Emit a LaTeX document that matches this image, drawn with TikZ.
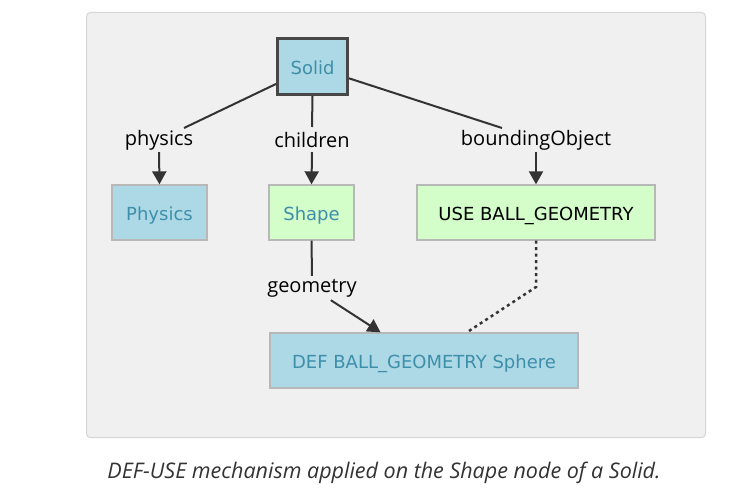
\documentclass[tikz,border=0pt]{standalone}
\usepackage{fontspec}
\setmainfont{Open Sans}
\newfontfamily\nodefont{DejaVu Sans}
\usetikzlibrary{arrows.meta}
\definecolor{panelbg}{HTML}{F0F0F0}
\definecolor{panelbd}{HTML}{D6D6D6}
\definecolor{lblue}{HTML}{ADD8E6}
\definecolor{lgreen}{HTML}{D3FDC9}
\definecolor{teal}{HTML}{3E8FAA}
\definecolor{bordgray}{HTML}{B8B8B8}
\definecolor{edgec}{HTML}{333333}
\tikzset{
  box/.style={draw=bordgray, line width=1.3pt, minimum height=55pt, inner sep=0pt, text height=16pt, text depth=0pt, font=\nodefont\fontsize{18}{20}\selectfont},
  bluebox/.style={box, fill=lblue, text=teal},
  greenbox/.style={box, fill=lgreen},
  lbl/.style={font=\fontsize{20}{23}\selectfont, text=black, inner sep=0pt, minimum height=24pt},
  edge/.style={draw=edgec, line width=2pt},
  arr/.style={edge, -{Triangle[width=14pt,length=13pt]}},
  dots/.style={draw=edgec, line width=2.5pt, dash pattern=on 3pt off 3.5pt},
}
\begin{document}
\begin{tikzpicture}[x=1pt,y=-1pt]
\useasboundingbox (0,0) rectangle (736,497);
\fill[white] (0,0) rectangle (736,497);
\draw[panelbd, fill=panelbg, rounded corners=4pt, line width=1pt] (86.5,12.5) rectangle (705.5,437.5);
% nodes
\node[bluebox, draw=edgec!90, line width=3pt, minimum width=70pt, minimum height=56pt] (solid) at (312.5,66.5) {Solid};
\node[bluebox, minimum width=95pt] (phys) at (159.5,212.5) {Physics};
\node[greenbox, minimum width=85pt, text=teal] (shape) at (311.5,212.5) {Shape};
\node[greenbox, minimum width=238pt, text=black] (use) at (536,212.5) {USE BALL\_GEOMETRY};
\node[bluebox, minimum width=308pt] (def) at (424,360.5) {DEF BALL\_GEOMETRY Sphere};
% labels
\node[lbl] (lphys) at (159,140) {physics};
\node[lbl] (lchild) at (312,140) {children};
\node[lbl] (lbound) at (536,140) {boundingObject};
\node[lbl] (lgeom) at (312,288) {geometry};
\coordinate (c1) at (184,128);
\coordinate (c2) at (312,127);
\coordinate (c3) at (502,128);
\coordinate (c4) at (536,287);
% edges
\draw[edge] (solid) -- (c1);
\draw[edge] (solid.south) -- (c2);
\draw[edge] (solid) -- (c3);
\draw[arr] (lphys.south) -- (phys.north);
\draw[arr] (lchild.south) -- (shape.north);
\draw[arr] (lbound.south) -- (use.north);
\draw[edge] (shape.south) -- (lgeom.north);
\draw[arr] (lgeom) -- (def);
\draw[dots] (use.south) -- (c4) -- (def);
% caption
\node[font=\itshape\fontsize{21.5}{25}\selectfont, text=edgec] (cap) at (384,473) {DEF-USE mechanism applied on the Shape node of a Solid.};
\end{tikzpicture}
\end{document}
